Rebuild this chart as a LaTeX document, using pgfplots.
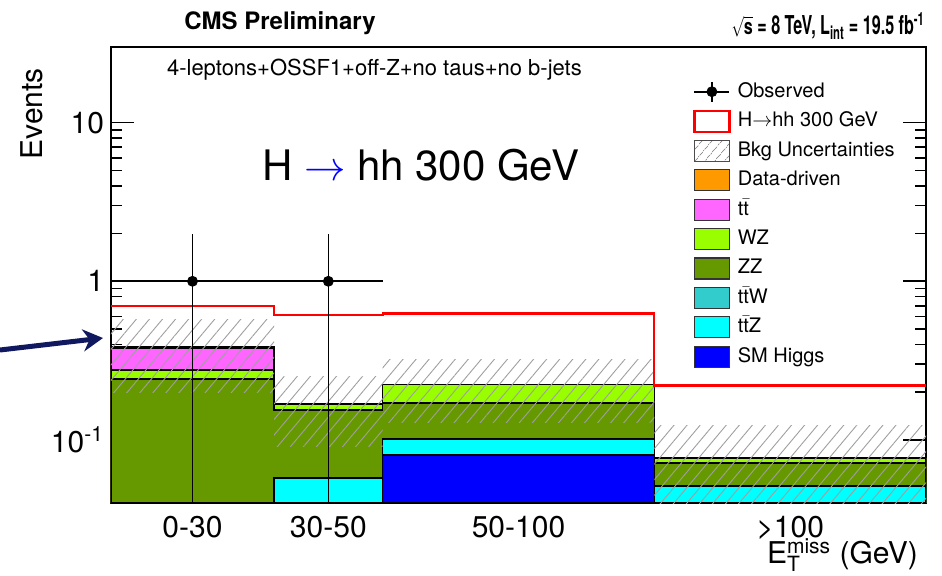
\documentclass[border=0pt]{standalone}
\usepackage{pgfplots}
\pgfplotsset{compat=1.18}
\usepackage{graphicx}
\usepackage{fontspec}
\setmainfont{TeX Gyre Heros}
\usetikzlibrary{patterns.meta,arrows.meta}
\definecolor{cDD}{RGB}{255,153,0}
\definecolor{cTT}{RGB}{255,102,255}
\definecolor{cWZ}{RGB}{153,255,0}
\definecolor{cZZ}{RGB}{102,153,0}
\definecolor{cTTW}{RGB}{51,204,204}
\definecolor{cTTZ}{RGB}{0,255,255}
\definecolor{cH}{RGB}{0,0,255}
\definecolor{cArrow}{RGB}{16,24,96}
\newcommand{\tb}{\ensuremath{\mathrm{t}\bar{\mathrm{t}}}}
\pgfplotsset{boxlegend/.style={legend image code/.code={\draw[#1] (0pt,-5.25pt) rectangle (17.5pt,5.25pt); \path (21.5pt,0pt);}}}
\begin{document}
\begin{tikzpicture}
\useasboundingbox (-55.5pt,-36pt) rectangle (415.5pt,251.5pt);
\begin{axis}[
  scale only axis, width=407.5pt, height=228pt,
  at={(0,0)}, anchor=south west,
  xmin=0, xmax=150, ymode=log, ymin=0.04, ymax=30,
  log origin=infty,
  axis line style={line width=0.9pt},
  xtick={15,40,75,125}, xticklabels={0-30,30-50,50-100,\textgreater100},
  major x tick style={draw=none}, minor x tick num=0,
  ytick={0.1,1,10}, yticklabels={10\textsuperscript{-1},1,10},
  ytick pos=both, tick align=inside,
  major tick length=11.5pt, minor tick length=5.5pt,
  y tick style={black, line width=0.8pt},
  /pgf/number format/assume math mode=true,
  tick label style={font=\fontsize{15}{18}\selectfont},
  xticklabel style={yshift=-3pt},
  legend style={at={(0.714,0.9265)}, anchor=north west, draw=none, fill=none,
    inner sep=0pt, row sep=3.6pt, font=\fontsize{10}{12}\selectfont,
    nodes={inner sep=0pt, text height=8pt, text depth=2.5pt}},
  legend cell align=left,
]
% legend entries
\addlegendimage{legend image code/.code={\draw[black,line width=0.8pt] (0pt,0pt)--(17.5pt,0pt); \draw[black,line width=0.8pt] (8.75pt,-5pt)--(8.75pt,5pt); \fill[black] (8.75pt,0pt) circle (2.5pt); \path (21.5pt,0pt);}}
\addlegendentry{Observed}
\addlegendimage{boxlegend={draw=red, line width=1.1pt, fill=white}}
\addlegendentry{H$\rightarrow$hh 300 GeV}
\addlegendimage{boxlegend={draw=black!70, line width=0.5pt, pattern={Lines[angle=50,distance=4pt,line width=0.4pt]}, pattern color=gray}}
\addlegendentry{Bkg Uncertainties}
\addlegendimage{boxlegend={draw=black!80, line width=0.6pt, fill=cDD}}
\addlegendentry{Data-driven}
\addlegendimage{boxlegend={draw=black!80, line width=0.6pt, fill=cTT}}
\addlegendentry{\tb}
\addlegendimage{boxlegend={draw=black!80, line width=0.6pt, fill=cWZ}}
\addlegendentry{WZ}
\addlegendimage{boxlegend={draw=black!80, line width=0.6pt, fill=cZZ}}
\addlegendentry{ZZ}
\addlegendimage{boxlegend={draw=black!80, line width=0.6pt, fill=cTTW}}
\addlegendentry{\tb W}
\addlegendimage{boxlegend={draw=black!80, line width=0.6pt, fill=cTTZ}}
\addlegendentry{\tb Z}
\addlegendimage{boxlegend={draw=black!80, line width=0.6pt, fill=cH}}
\addlegendentry{SM Higgs}
% stacked backgrounds (cumulative), bins 0-30,30-50,50-100,100-150
\addplot[forget plot, const plot, draw=black, line width=0.8pt, fill=cDD]
  coordinates {(0,0.387) (30,0.169) (50,0.223) (100,0.0769) (150,0.0769)} \closedcycle;
\addplot[forget plot, const plot, draw=black, line width=0.8pt, fill=cTT]
  coordinates {(0,0.380) (30,0.169) (50,0.223) (100,0.0769) (150,0.0769)} \closedcycle;
\addplot[forget plot, const plot, draw=black, line width=0.8pt, fill=cWZ]
  coordinates {(0,0.277) (30,0.169) (50,0.223) (100,0.0769) (150,0.0769)} \closedcycle;
\addplot[forget plot, const plot, draw=black, line width=0.8pt, fill=cZZ]
  coordinates {(0,0.243) (30,0.155) (50,0.171) (100,0.0715) (150,0.0715)} \closedcycle;
\addplot[forget plot, const plot, draw=black, line width=0.8pt, fill=cTTZ]
  coordinates {(0,0.001) (30,0.0575) (50,0.101) (100,0.0512) (150,0.0512)} \closedcycle;
\addplot[forget plot, const plot, draw=black, line width=0.8pt, fill=cH]
  coordinates {(0,0.001) (30,0.001) (50,0.0804) (100,0.001) (150,0.001)} \closedcycle;
% background uncertainty band
\addplot[forget plot, draw=none, pattern={Lines[angle=50,distance=5pt,line width=0.45pt]}, pattern color=gray!75]
  coordinates {(0,0.198) (0,0.575) (30,0.575) (30,0.198)} -- cycle;
\addplot[forget plot, draw=none, pattern={Lines[angle=50,distance=5pt,line width=0.45pt]}, pattern color=gray!75]
  coordinates {(30,0.0915) (30,0.25) (50,0.25) (50,0.0915)} -- cycle;
\addplot[forget plot, draw=none, pattern={Lines[angle=50,distance=5pt,line width=0.45pt]}, pattern color=gray!75]
  coordinates {(50,0.128) (50,0.321) (100,0.321) (100,0.128)} -- cycle;
\addplot[forget plot, draw=none, pattern={Lines[angle=50,distance=5pt,line width=0.45pt]}, pattern color=gray!75]
  coordinates {(100,0.03) (100,0.124) (150,0.124) (150,0.03)} -- cycle;
% signal
\addplot[forget plot, const plot, red, line width=1.1pt]
  coordinates {(0,0.698) (30,0.61) (50,0.627) (100,0.22) (150,0.22)};
% data
\addplot[forget plot, black, only marks, mark=*, mark size=2.5pt,
  error bars/.cd, x dir=both, x explicit, y dir=both, y explicit,
  error mark=none, error bar style={line width=0.8pt, black}]
  coordinates {(15,1) += (15,1) -= (15,0.999)
               (40,1) += (10,1) -= (10,0.999)};
\end{axis}
% annotations (pt coordinates relative to axis south-west corner)
\node[anchor=center, font=\fontsize{12}{14}\selectfont\bfseries] at (84.5pt,240pt) {CMS Preliminary};
\node[anchor=east, inner sep=0pt, font=\fontsize{13}{15}\selectfont\bfseries] at (407pt,238.5pt) {\scalebox{0.62}[1]{\scalebox{1}[0.85]{$\sqrt{\mbox{\textbf{s}}}$} = 8 TeV, L\textsubscript{int} = 19.5 fb\textsuperscript{-1}}};
\node[anchor=west, font=\fontsize{11}{13}\selectfont] at (24.5pt,216.5pt) {4-leptons+OSSF1+off-Z+no taus+no b-jets};
\node[anchor=west, font=\fontsize{21}{25}\selectfont] at (72pt,169pt) {H {\color{blue}$\rightarrow$} hh 300 GeV};
\node[anchor=east, rotate=90, font=\fontsize{15}{18}\selectfont] at (-39.5pt,221pt) {Events};
\node[anchor=east, font=\fontsize{15}{18}\selectfont] at (407pt,-26pt) {$\mathrm{E}_{\mathrm{T}}^{\mathrm{miss}}$ (GeV)};
\draw[cArrow, line width=2.5pt, -{Stealth[length=10pt,width=11pt]}] (-55.5pt,76.5pt) -- (-4pt,82.5pt);
\end{tikzpicture}
\end{document}
